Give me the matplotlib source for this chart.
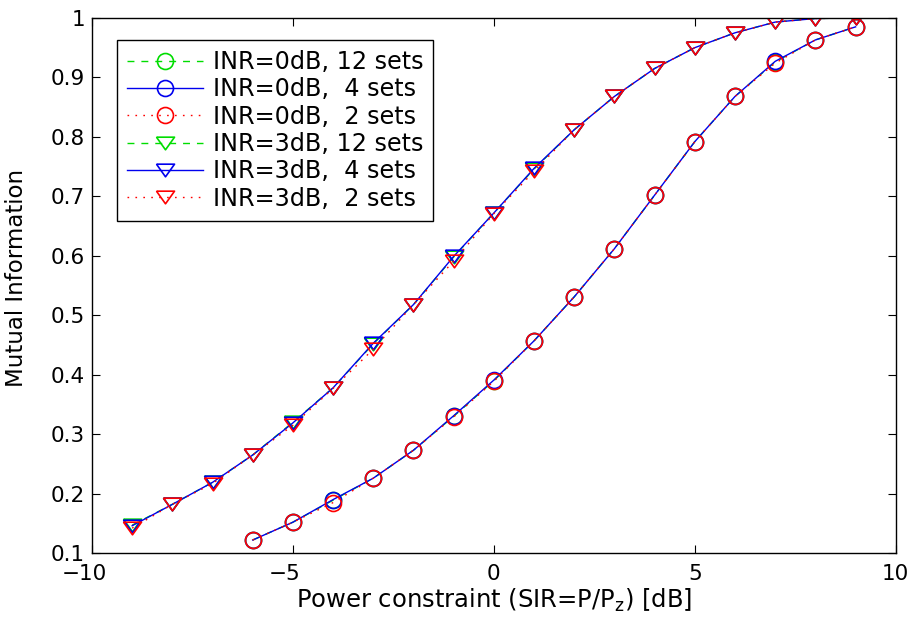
import matplotlib
matplotlib.use('Agg')
import matplotlib.pyplot as plt
import matplotlib.transforms as mtransforms
import numpy as np

plt.rcParams['font.family'] = ['DejaVu Sans']
plt.rcParams['mathtext.default'] = 'regular'

# INR = 0dB (circles)
x0 = [-6, -5, -4, -3, -2, -1, 0, 1, 2, 3, 4, 5, 6, 7, 8, 9]
y0_12 = [0.122, 0.152, 0.189, 0.226, 0.273, 0.330, 0.390, 0.457, 0.531, 0.612, 0.702, 0.792, 0.868, 0.926, 0.963, 0.985]
y0_4 = [0.122, 0.152, 0.190, 0.226, 0.273, 0.331, 0.391, 0.457, 0.531, 0.612, 0.702, 0.792, 0.868, 0.927, 0.963, 0.985]
y0_2 = [0.122, 0.152, 0.185, 0.226, 0.273, 0.329, 0.389, 0.457, 0.531, 0.612, 0.702, 0.792, 0.868, 0.924, 0.963, 0.985]

# INR = 3dB (triangles)
x3 = [-9, -8, -7, -6, -5, -4, -3, -2, -1, 0, 1, 2, 3, 4, 5, 6, 7, 8, 9]
y3_12 = [0.147, 0.182, 0.219, 0.265, 0.320, 0.378, 0.452, 0.518, 0.598, 0.672, 0.746, 0.812, 0.868, 0.915, 0.950, 0.975, 0.993, 0.999, 1.0]
y3_4 = [0.146, 0.182, 0.219, 0.265, 0.319, 0.378, 0.453, 0.518, 0.599, 0.672, 0.747, 0.812, 0.868, 0.915, 0.950, 0.975, 0.993, 0.999, 1.0]
y3_2 = [0.142, 0.182, 0.217, 0.265, 0.315, 0.377, 0.443, 0.518, 0.591, 0.671, 0.742, 0.812, 0.868, 0.915, 0.950, 0.975, 0.993, 0.999, 1.0]

labels = ['INR=0dB, 12 sets', 'INR=0dB,  4 sets', 'INR=0dB,  2 sets',
          'INR=3dB, 12 sets', 'INR=3dB,  4 sets', 'INR=3dB,  2 sets']

fig = plt.figure(figsize=(9.15, 6.18), dpi=100)
ax = fig.add_axes([0.1005, 0.105, 0.8785, 0.866])

# matlab-like wide down triangle
tri = [(-1, 0.7), (1, 0.7), (0, -0.7), (-1, 0.7)]

green, blue, red = '#00dd00', '#0000ee', '#ff0000'
kw = dict(fillstyle='none', markeredgewidth=1.2, linewidth=1.0)
dash_g = (5, 5)
dot_r = (1.2, 4.5)
ax.plot(x0, y0_12, color=green, dashes=dash_g, marker='o', markersize=11.5, label=labels[0], **kw)
ax.plot(x0, y0_4, '-', color=blue, marker='o', markersize=11.5, label=labels[1], **kw)
ax.plot(x0, y0_2, color=red, dashes=dot_r, marker='o', markersize=11.5, label=labels[2], **kw)
ax.plot(x3, y3_12, color=green, dashes=dash_g, marker=tri, markersize=13, label=labels[3], **kw)
ax.plot(x3, y3_4, '-', color=blue, marker=tri, markersize=13, label=labels[4], **kw)
ax.plot(x3, y3_2, color=red, dashes=dot_r, marker=tri, markersize=13, label=labels[5], **kw)

ax.set_xlim(-10, 10)
ax.set_ylim(0.1, 1)
xt = [-10, -5, 0, 5, 10]
ax.set_xticks(xt)
ax.set_xticklabels([('\u2212%d' % -v) if v < 0 else '%d' % v for v in xt])
yt = np.round(np.arange(0.1, 1.01, 0.1), 1)
ax.set_yticks(yt)
ax.set_yticklabels([('%g' % v) for v in yt])
ax.tick_params(direction='in', top=True, right=True, labelsize=15.5, length=6, pad=5)
ax.tick_params(axis='x', pad=8)
for s in ax.spines.values():
    s.set_linewidth(1.0)

# keep digits centred on negative ticks, minus hanging to the left
shift = mtransforms.ScaledTranslation(-8 / 100, 0, fig.dpi_scale_trans)
for v, lab in zip(xt, ax.get_xticklabels()):
    if v < 0:
        lab.set_transform(lab.get_transform() + shift)

ax.set_xlabel('Power constraint (SIR=P/P$_z$) [dB]', fontsize=17.5, labelpad=2)
ax.set_ylabel('Mutual Information', fontsize=16.5)
ax.yaxis.set_label_coords(-0.079, 0.515)

leg = ax.legend(loc='upper left', bbox_to_anchor=(0.031, 0.959), borderaxespad=0,
                fontsize=17.2, fancybox=False, edgecolor='black', framealpha=1,
                handlelength=3.2, handletextpad=0.4, labelspacing=0.14,
                borderpad=0.42)
leg.get_frame().set_linewidth(1.0)

fig.savefig('out.png', dpi=100)
